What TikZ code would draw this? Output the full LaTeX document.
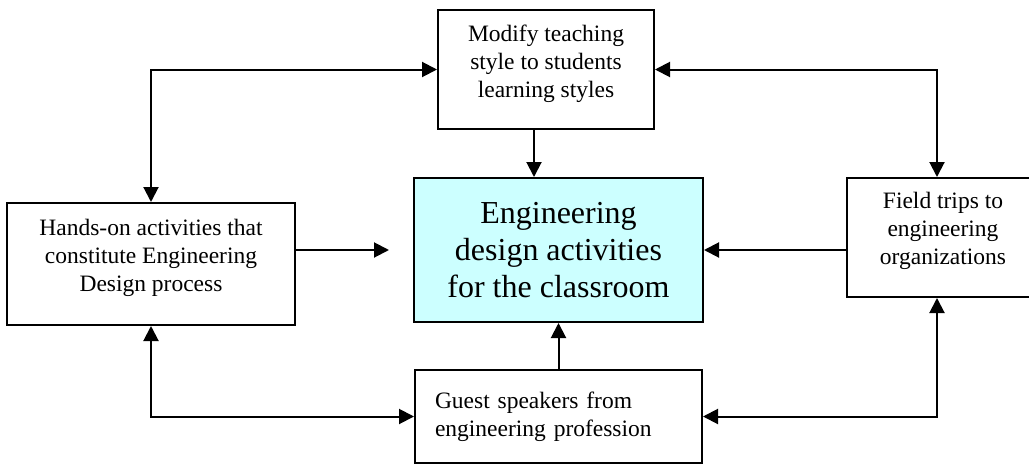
\documentclass[tikz,border=0pt]{standalone}
\usepackage{fontspec}
\setmainfont{Liberation Serif}
\usepackage{tikz}
\usetikzlibrary{arrows.meta,positioning}
\definecolor{paleCyan}{HTML}{CCFFFF}

\begin{document}
\begin{tikzpicture}[x=1pt,y=-1pt,
    box/.style={draw, line width=2pt, align=center, inner sep=0pt,
      font=\fontsize{23.5}{28}\selectfont},
    arr/.style={line width=2pt, -{Triangle[length=15pt,width=15pt]}},
    biarr/.style={line width=2pt,
      {Triangle[length=15pt,width=15pt]}-{Triangle[length=15pt,width=15pt]}}]
    \useasboundingbox (0,0) rectangle (1029,466);
    \clip (0,0) rectangle (1029,466);

    % Draw the boxes
    \node[box, minimum width=216pt, minimum height=119pt] (modify) at (546,69.5)
      {Modify teaching\\style to students\\learning styles\\[-12pt]\mbox{}};
    \node[box, fill=paleCyan, minimum width=289pt, minimum height=144pt,
      font=\fontsize{32}{37}\selectfont] (design) at (558.5,250)
      {Engineering\\design activities\\for the classroom};
    \node[box, minimum width=288pt, minimum height=122pt] (hands) at (151,264)
      {Hands-on activities that\\constitute Engineering\\Design process\\[-10pt]\mbox{}};
    \node[box, minimum width=192pt, minimum height=119pt] (field) at (943,237.5)
      {Field trips to\\engineering\\organizations\\[-10pt]\mbox{}};
    \node[box, align=left, text width=247pt, inner xsep=20pt, minimum height=93pt]
      (guest) at (558.5,416.5)
      {Guest speakers from\\engineering profession};

    % Arrows into the centre box
    \draw[arr] ([xshift=-12pt]modify.south) -- ([xshift=-12pt]modify.south |- design.north);
    \draw[arr] (guest) -- (design);
    \draw[arr, shorten >=24pt] (hands.east |- design.west) -- (design.west);
    \draw[arr] (field.west |- design.east) -- (design.east);

    % Two-way links round the outside
    \draw[biarr] (modify.west) -| (hands.north);
    \draw[biarr] (modify.east) -| ([xshift=-6pt]field.north);
    \draw[biarr] (hands.south) |- (guest.west);
    \draw[biarr] (guest.east) -| ([xshift=-6pt]field.south);
\end{tikzpicture}
\end{document}
